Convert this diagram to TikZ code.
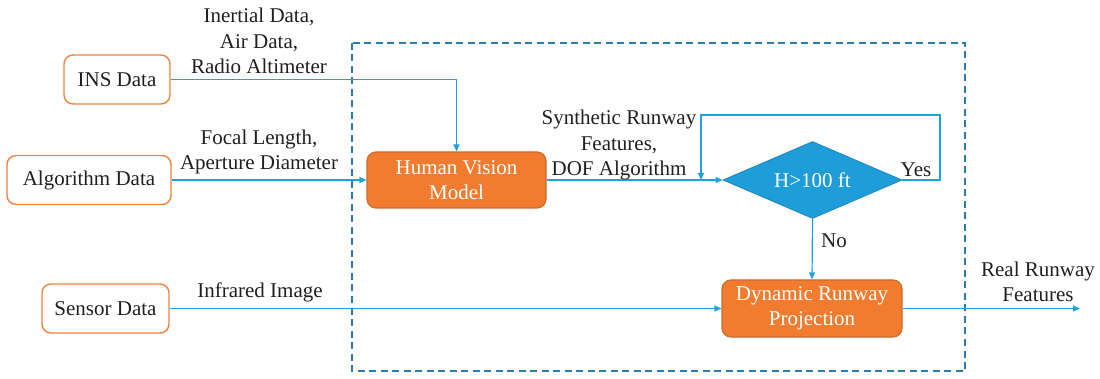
\documentclass[tikz,border=0pt]{standalone}
\usepackage{fontspec}
\setmainfont{Liberation Serif}
\usetikzlibrary{shapes.geometric,arrows.meta}
\definecolor{txt}{HTML}{231F20}
\definecolor{orangeline}{HTML}{F0843C}
\definecolor{orangefill}{HTML}{F17C30}
\definecolor{orangedark}{HTML}{CC6B2C}
\definecolor{flow}{HTML}{1DA1DF}
\definecolor{diafill}{HTML}{1E9DD8}
\definecolor{diaedge}{HTML}{1A86BE}
\definecolor{framecol}{HTML}{2C7CAB}

\begin{document}
\begin{tikzpicture}[x=1pt,y=-1pt,
  font=\fontsize{21}{25.5}\selectfont, text=txt,
  inbox/.style={draw=orangeline, line width=1.4pt, rounded corners=9pt, fill=white,
    inner sep=0pt, minimum height=49pt},
  procbox/.style={draw=orangedark, fill=orangefill, line width=1.2pt, rounded corners=9pt,
    text=white, align=center, inner sep=0pt, minimum width=179pt, minimum height=56pt},
  decision/.style={diamond, aspect=2.3, draw=diaedge, line width=0.8pt, fill=diafill,
    text=white, inner sep=0pt, minimum width=179pt, minimum height=77pt},
  flowline/.style={draw=flow, line width=1.2pt, -{Triangle[length=7pt,width=6pt]}},
  lbl/.style={align=center, inner sep=0pt},
  framebox/.style={draw=framecol, line width=1.4pt, dash pattern=on 7pt off 4.5pt}]

\useasboundingbox (0,0) rectangle (1100,379);

% processing frame
\draw[framebox] (352,43) rectangle (965,371);

% input sources
\node[inbox, minimum width=106pt] (ins) at (117,79.5) {INS Data};
\node[inbox, minimum width=164pt] (alg) at (89,180) {Algorithm Data};
\node[inbox, minimum width=127pt] (sensor) at (105.5,308.5) {Sensor Data};

% processing steps
\node[procbox] (hvm) at (456.5,180) {Human Vision\\Model};
\node[decision] (dec) at (812.5,180) {H>100 ft};
\node[procbox, minimum width=180pt, minimum height=57pt] (dyn) at (812,308.5) {Dynamic Runway\\Projection};

% helper points
\coordinate (loopR) at (940,115);
\coordinate (loopL) at (701,115);
\coordinate (out) at (1080,308.5);

% connectors
\draw[flowline] (ins.east) -| (hvm.north);
\draw[flowline] (alg.east) -- (hvm.west);
\draw[flowline] (sensor.east) -- (dyn.west);
\draw[flowline] (hvm.east) -- (dec.west);
\draw[flowline] (dec.east) -- (dec.east -| loopR) |- (loopL) -- (loopL |- dec.west);
\draw[flowline] (dec.south) -- (dyn.north);
\draw[flowline] (dyn.east) -- (out);

% labels
\node[lbl] (l1) at (259,41) {Inertial Data,\\Air Data,\\Radio Altimeter};
\node[lbl] (l2) at (259,152) {Focal Length,\\Aperture Diameter};
\node[lbl] (l3) at (260,292) {Infrared Image};
\node[lbl] (l4) at (619,145) {Synthetic Runway\\Features,\\DOF Algorithm};
\node[lbl] (l5) at (916,170) {Yes};
\node[lbl] (l6) at (834,241) {No};
\node[lbl] (l7) at (1038,282) {Real Runway\\Features};
\end{tikzpicture}
\end{document}
